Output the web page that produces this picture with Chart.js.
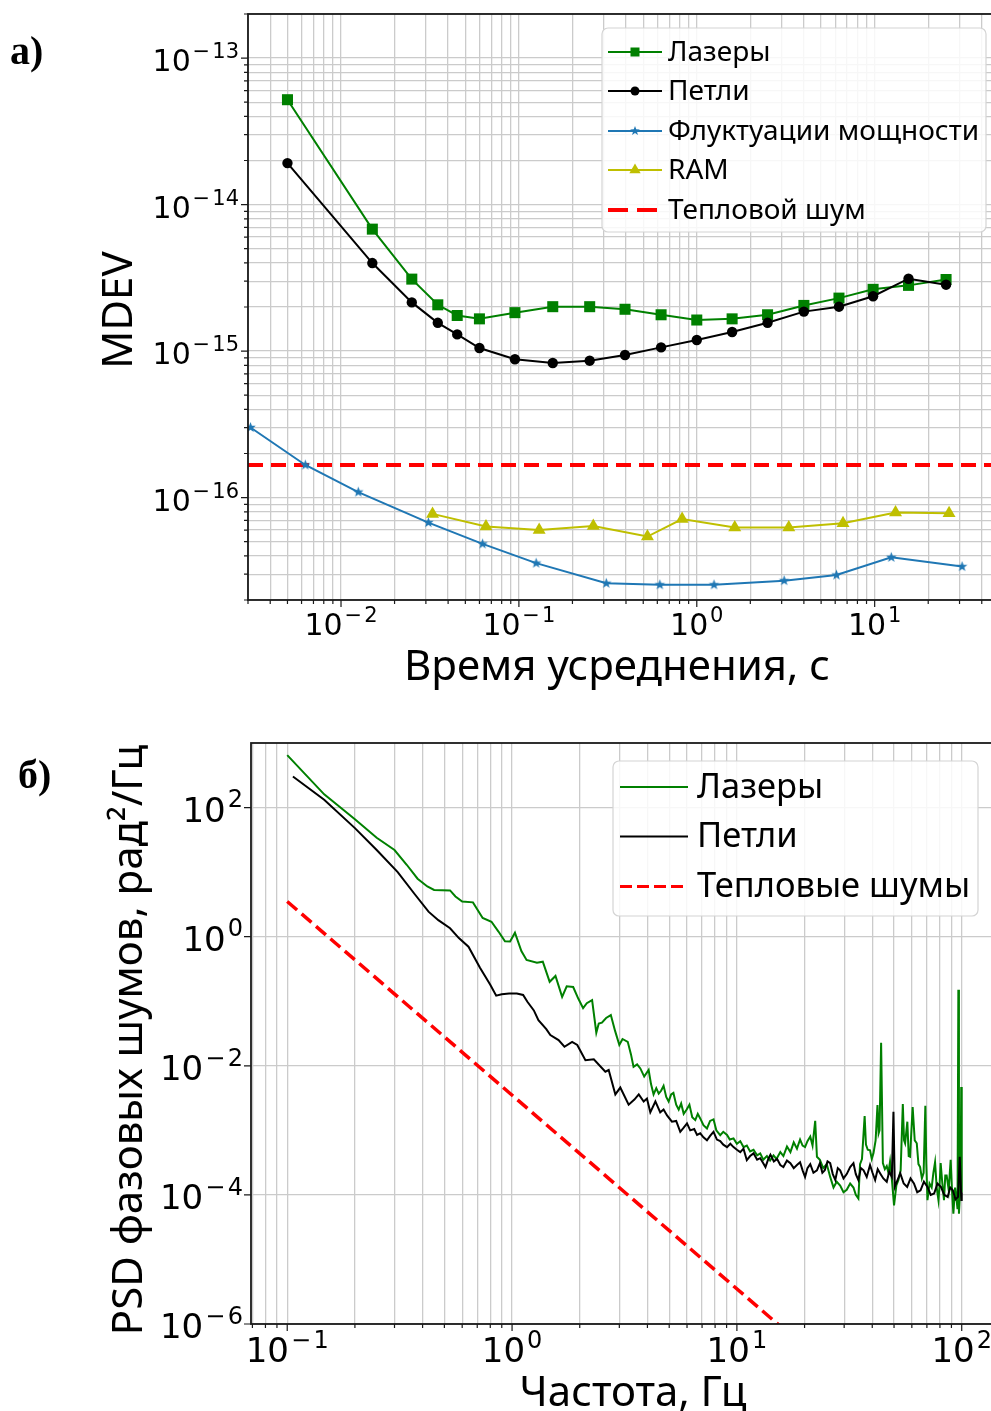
<!DOCTYPE html>
<html lang="ru">
<head>
<meta charset="utf-8">
<title>MDEV и PSD фазовых шумов</title>
<script src="https://cdn.jsdelivr.net/npm/chart.js@4.4.1/dist/chart.umd.min.js"></script>
<style>
  html, body { margin: 0; padding: 0; background: #fff; overflow: hidden; }
  #page { position: relative; width: 991px; height: 1411px; overflow: hidden; background: #fff; }
  canvas { position: absolute; left: 0; }
  #mdevChart { top: 0; }
  #psdChart { top: 700px; }
</style>
</head>
<body>
<div id="page">
  <canvas id="mdevChart" width="1000" height="700"></canvas>
  <canvas id="psdChart" width="1000" height="711"></canvas>
</div>
<script>
// ---------- а) MDEV vs averaging time ----------
const tau = [0.005, 0.015, 0.025, 0.035, 0.045, 0.06, 0.095, 0.155, 0.25, 0.395,
             0.63, 1.0, 1.58, 2.5, 4.0, 6.3, 9.8, 15.5, 25.2];
const lasersMdev = [5.2e-14, 6.8e-15, 3.1e-15, 2.07e-15, 1.75e-15, 1.66e-15, 1.83e-15, 2.01e-15,
                    2.01e-15, 1.93e-15, 1.77e-15, 1.63e-15, 1.66e-15, 1.77e-15, 2.05e-15, 2.3e-15,
                    2.64e-15, 2.81e-15, 3.08e-15];
const loopsMdev = [1.92e-14, 3.99e-15, 2.15e-15, 1.56e-15, 1.30e-15, 1.05e-15, 8.8e-16, 8.3e-16,
                   8.6e-16, 9.4e-16, 1.06e-15, 1.19e-15, 1.35e-15, 1.56e-15, 1.86e-15, 2.01e-15,
                   2.37e-15, 3.12e-15, 2.84e-15];
const powerTau = [0.0031, 0.0063, 0.0125, 0.031, 0.0625, 0.125, 0.31, 0.62, 1.25, 3.1, 6.1, 12.4, 31];
const powerMdev = [3.01e-16, 1.67e-16, 1.09e-16, 6.75e-17, 4.83e-17, 3.57e-17, 2.6e-17, 2.54e-17,
                   2.54e-17, 2.71e-17, 2.96e-17, 3.91e-17, 3.38e-17];
const ramTau = [0.0327, 0.0653, 0.130, 0.262, 0.528, 0.827, 1.635, 3.29, 6.64, 13.1, 26.2];
const ramMdev = [7.74e-17, 6.34e-17, 6.02e-17, 6.41e-17, 5.42e-17, 7.13e-17, 6.24e-17, 6.24e-17,
                 6.68e-17, 7.9e-17, 7.83e-17];
const thermalTau = [0.003, 50];
const thermalMdev = [1.67e-16, 1.67e-16];
const mdevXTicks = [0.01, 0.1, 1, 10];
const mdevYTicks = [1e-16, 1e-15, 1e-14, 1e-13];

// ---------- б) phase noise PSD ----------
const lasersFreq = [0.10, 0.146, 0.20, 0.25, 0.30, 0.34, 0.38, 0.42, 0.45, 0.53, 0.56, 0.60, 0.67, 0.74,
  0.81, 0.87, 0.93, 0.98, 1.03, 1.10, 1.16, 1.29, 1.37, 1.47, 1.56, 1.67, 1.75, 1.87, 1.97, 2.07, 2.15,
  2.27, 2.37, 2.43, 2.51, 2.62, 2.75, 2.87, 3.0, 3.1, 3.27, 3.38, 3.47, 3.6, 3.72, 3.87, 4.05, 4.15,
  4.26, 4.38, 4.49, 4.6, 4.72, 4.85, 4.97, 5.1, 5.22, 5.37, 5.51, 5.65, 5.8, 5.98, 6.15, 6.33, 6.53,
  6.7, 6.87, 7.1, 7.36, 7.6, 7.87, 8.1, 8.43, 8.7, 9.04, 9.3, 9.66, 10.0, 10.35, 10.7, 11.07, 11.45,
  11.86, 12.3, 12.7, 13.1, 13.6, 14.05, 14.55, 15.0, 15.6, 16.1, 16.7, 17.3, 17.9, 18.5, 19.1, 19.6,
  20.1, 20.6, 21.2, 21.7, 22.3, 22.7, 23.4, 24.2, 25.1, 26.0, 26.9, 27.8, 28.8, 29.8, 30.8, 31.9, 33.0,
  33.8, 34.7, 35.3, 36.0, 37.0, 37.5, 38.2, 39.1, 39.8, 40.5, 41.4, 42.2, 42.7, 43.1, 43.8, 44.6, 45.5,
  46.4, 47.2, 48.0, 49.0, 50.0, 51.2, 52.3, 53.5, 54.7, 55.4, 56.0, 57.3, 58.1, 58.9, 60.5, 61.8, 63.1,
  64.2, 65.3, 66.5, 67.7, 68.9, 69.6, 70.4, 71.9, 73.5, 74.8, 76.1, 77.4, 78.8, 79.7, 80.6, 82.0, 83.4,
  84.5, 85.7, 87.5, 89.3, 90.5, 91.8, 93.4, 94.9, 95.8, 96.6, 97.2, 98.0, 98.8, 99.5, 100];
const lasersPsd = [650, 160, 66, 34, 22, 13, 7.9, 6.0, 5.3, 5.2, 4.2, 3.5, 3.4, 1.95,
  1.7, 1.2, 0.85, 0.84, 1.15, 0.6, 0.435, 0.395, 0.41, 0.2, 0.246, 0.117, 0.17, 0.166, 0.11, 0.078, 0.093,
  0.104, 0.0325, 0.045, 0.0465, 0.055, 0.061, 0.035, 0.021, 0.026, 0.0235, 0.015, 0.0096, 0.0105, 0.0091, 0.0068, 0.0086, 0.0052,
  0.0036, 0.0045, 0.0037, 0.0041, 0.0049, 0.0033, 0.0028, 0.0036, 0.0038, 0.0025, 0.0021, 0.0026, 0.0018, 0.0021, 0.0025, 0.0016, 0.00144,
  0.0018, 0.00153, 0.0012, 0.00107, 0.0014, 0.00148, 0.0010, 0.00084, 0.00095, 0.00085, 0.00072, 0.00075, 0.00062, 0.00068, 0.00055, 0.00058, 0.00047,
  0.00050, 0.00041, 0.00044, 0.00035, 0.00040, 0.00034, 0.00041, 0.00036, 0.00046, 0.00040, 0.00056, 0.00046, 0.00065, 0.00052, 0.00072, 0.00058,
  0.00055, 0.00068, 0.00080, 0.00058, 0.0014, 0.00039, 0.00035, 0.00026, 0.00030, 0.00019, 0.00013, 0.00016, 0.00014, 0.00011, 0.00012, 0.00015, 0.00013,
  0.00010, 0.000088, 0.00030, 0.00036, 0.00166, 0.00060, 0.00050, 0.00049, 0.00036, 0.00044, 0.00070, 0.00246, 0.00090, 0.0010, 0.0227, 0.00031, 0.00025,
  0.00028, 0.00022, 0.00033, 0.00016, 0.000069, 0.00014, 0.00017, 0.00024, 0.00255, 0.00070, 0.00063, 0.00136, 0.00040, 0.00039, 0.0023, 0.00070, 0.00063,
  0.00030, 0.00027, 0.00018, 0.00022, 0.0024, 0.00030, 0.000083, 0.00015, 0.00013, 0.00022, 0.00032, 0.00013, 0.000083, 0.00014, 0.00031, 0.00015, 0.000083,
  0.00020, 0.00020, 0.00012, 0.00035, 0.00012, 0.000051, 0.00013, 0.000083, 0.00006, 0.15, 0.000051, 0.00009, 0.00014, 0.0047, 0.00011];

const loopsFreq = [0.106, 0.146, 0.20, 0.25, 0.31, 0.37, 0.425, 0.47, 0.53, 0.58, 0.64, 0.72, 0.80, 0.85,
  0.90, 0.97, 1.05, 1.12, 1.17, 1.25, 1.31, 1.42, 1.48, 1.61, 1.71, 1.85, 1.95, 2.12, 2.31, 2.6, 2.69,
  2.88, 3.03, 3.3, 3.5, 3.66, 3.85, 3.98, 4.12, 4.34, 4.56, 4.72, 4.89, 5.14, 5.37, 5.6, 5.8, 6.0, 6.2,
  6.46, 6.65, 6.87, 7.1, 7.36, 7.6, 7.87, 8.15, 8.43, 8.7, 9.04, 9.35, 9.66, 10.0, 10.35, 10.7, 11.07,
  11.45, 11.86, 12.3, 12.7, 13.1, 13.4, 13.8, 14.1, 14.6, 15.1, 15.6, 16.1, 16.7, 17.3, 17.9, 18.5, 19.1,
  19.6, 20.1, 20.6, 21.2, 21.9, 22.7, 23.4, 24.0, 24.6, 25.3, 26.0, 26.7, 27.4, 28.1, 28.8, 29.8, 30.8,
  31.9, 33.0, 33.8, 34.7, 35.6, 36.6, 37.8, 39.1, 40.1, 41.2, 42.3, 43.4, 44.8, 46.4, 47.6, 48.9, 49.7,
  50.4, 51.8, 53.3, 55.2, 57.2, 59.2, 61.3, 63.4, 65.6, 67.9, 70.4, 72.8, 75.4, 78.0, 80.8, 83.6, 86.6,
  88.9, 91.3, 93.8, 96.3, 98.0, 99.6, 100];
const loopsPsd = [302, 132, 48, 22, 10, 4.5, 2.44, 1.8, 1.35, 0.95, 0.70, 0.33, 0.18, 0.122,
  0.128, 0.132, 0.132, 0.125, 0.098, 0.072, 0.051, 0.037, 0.030, 0.025, 0.0197, 0.0235, 0.021, 0.0122, 0.0126, 0.0081, 0.0086,
  0.0036, 0.0046, 0.0025, 0.0030, 0.0036, 0.0028, 0.0031, 0.0019, 0.0028, 0.0019, 0.0021, 0.0017, 0.00136, 0.0014, 0.00095, 0.0011, 0.00128, 0.0010,
  0.00105, 0.00085, 0.0009, 0.00078, 0.0007, 0.00082, 0.00095, 0.00072, 0.00068, 0.00060, 0.00055, 0.00062, 0.00055, 0.00050, 0.00046, 0.00052, 0.000345,
  0.00040, 0.00044, 0.00035, 0.00037, 0.00031, 0.00027, 0.00036, 0.00042, 0.00033, 0.00036, 0.00029, 0.00027, 0.00034, 0.00031, 0.00026, 0.00029, 0.00032,
  0.00024, 0.00019, 0.00026, 0.00030, 0.00022, 0.00024, 0.00031, 0.00022, 0.00024, 0.00033, 0.00031, 0.00021, 0.00017, 0.00026, 0.00024, 0.00018, 0.00021,
  0.00027, 0.00031, 0.00021, 0.00017, 0.00026, 0.00024, 0.00019, 0.00029, 0.00022, 0.00017, 0.00025, 0.000215, 0.00018, 0.00016, 0.00023, 0.00019, 0.00194,
  0.000133, 0.00017, 0.000215, 0.00015, 0.000133, 0.00018, 0.00015, 0.00011, 0.000118, 0.00016, 0.000133, 0.00010, 0.000105, 0.00015, 0.000133, 0.00010, 0.000093,
  0.00013, 0.000118, 0.000085, 0.000093, 0.00039, 0.000083, 0.00011];

const thermalFreq = [0.1, 100];
const thermalPsd = [3.5, 3.5e-9];
const psdXTicks = [0.1, 1, 10, 100];
const psdYTicks = [1e-6, 1e-4, 1e-2, 1, 100];

// ---------- styling ----------
const GREEN = '#008000', BLACK = '#000000', BLUE = '#1f77b4', OLIVE = '#bfbf00', RED = '#ff0000';
const GRID = '#cbcbcb';
const TEXT_FONT = '"Noto Sans", "DejaVu Sans", sans-serif';
const TICK_FONT = '"DejaVu Sans", sans-serif';
const SERIF_FONT = '"Liberation Serif", "DejaVu Serif", serif';

const pts = (xs, ys) => xs.map((x, i) => ({ x, y: ys[i] }));

function logGrid(min, max, mults) {
  const out = [];
  for (let e = Math.floor(Math.log10(min)); e <= Math.ceil(Math.log10(max)); e++) {
    for (const m of mults) {
      const v = m * Math.pow(10, e);
      if (v >= min * 0.999 && v <= max * 1.001) out.push(v);
    }
  }
  return out;
}

function starPath(ctx, cx, cy, ro, ri) {
  ctx.beginPath();
  for (let i = 0; i < 10; i++) {
    const r = i % 2 ? ri : ro;
    const a = -Math.PI / 2 + i * Math.PI / 5;
    const px = cx + r * Math.cos(a), py = cy + r * Math.sin(a);
    if (i) ctx.lineTo(px, py); else ctx.moveTo(px, py);
  }
  ctx.closePath();
}

function starImage(radius, color) {
  const c = document.createElement('canvas');
  const s = Math.ceil(radius * 2 + 2);
  c.width = s; c.height = s;
  const g = c.getContext('2d');
  g.fillStyle = color;
  starPath(g, s / 2, s / 2, radius, radius * 0.42);
  g.fill();
  return c;
}

function drawMarker(ctx, kind, x, y, color, r) {
  ctx.fillStyle = color;
  ctx.beginPath();
  if (kind === 'rect') {
    ctx.rect(x - r, y - r, 2 * r, 2 * r);
  } else if (kind === 'circle') {
    ctx.arc(x, y, r, 0, Math.PI * 2);
  } else if (kind === 'triangle') {
    ctx.moveTo(x, y - r);
    ctx.lineTo(x + r * 0.87, y + r * 0.5);
    ctx.lineTo(x - r * 0.87, y + r * 0.5);
    ctx.closePath();
  } else if (kind === 'star') {
    starPath(ctx, x, y, r, r * 0.42);
  }
  ctx.fill();
}

// "10" with a raised exponent, py = vertical centre of the digits
function drawPower(ctx, value, px, py, size, align) {
  const exp = Math.round(Math.log10(value));
  const sup = exp < 0 ? '\u2212\u200a' + Math.abs(exp) : String(exp);
  const supSize = Math.round(size * 0.7);
  ctx.font = `${size}px ${TICK_FONT}`;
  const bw = ctx.measureText('10').width;
  ctx.font = `${supSize}px ${TICK_FONT}`;
  const sw = ctx.measureText(sup).width;
  const gap = size * 0.06;
  const total = bw + gap + sw;
  const left = align === 'center' ? px - total / 2 : px - total;
  const base = py + size * 0.364;
  ctx.fillStyle = '#000';
  ctx.textAlign = 'left';
  ctx.textBaseline = 'alphabetic';
  ctx.font = `${size}px ${TICK_FONT}`;
  ctx.fillText('10', left, base);
  ctx.font = `${supSize}px ${TICK_FONT}`;
  ctx.fillText(sup, left + bw + gap, base - size * 0.43);
}

function drawLegend(ctx, lg) {
  ctx.save();
  ctx.beginPath();
  ctx.roundRect(lg.x, lg.y, lg.w, lg.h, 6);
  ctx.fillStyle = 'rgba(255,255,255,0.85)';
  ctx.fill();
  ctx.strokeStyle = '#d4d4d4';
  ctx.lineWidth = 1.2;
  ctx.stroke();
  lg.items.forEach((it, i) => {
    const y = lg.rowY[i];
    ctx.save();
    ctx.strokeStyle = it.color;
    ctx.lineWidth = it.width;
    ctx.setLineDash(it.dash || []);
    ctx.beginPath();
    ctx.moveTo(lg.hx0, y);
    ctx.lineTo(lg.hx1, y);
    ctx.stroke();
    ctx.restore();
    if (it.marker) drawMarker(ctx, it.marker, (lg.hx0 + lg.hx1) / 2, y, it.color, it.size);
    ctx.fillStyle = '#000';
    ctx.font = `${lg.fontSize}px ${TEXT_FONT}`;
    ctx.textAlign = 'left';
    ctx.textBaseline = 'middle';
    ctx.fillText(it.label, lg.tx, y + 1);
  });
  ctx.restore();
}

// frame, tick marks, tick labels, titles and legend drawn around the plot area
function decorPlugin(cfg) {
  return {
    id: 'decor',
    afterDraw(chart) {
      const { ctx, chartArea: a, scales: { x, y } } = chart;
      ctx.save();
      ctx.strokeStyle = '#1a1a1a';
      ctx.lineWidth = 1.2;
      ctx.beginPath();
      cfg.xMinor.forEach(v => { const px = x.getPixelForValue(v); ctx.moveTo(px, a.bottom); ctx.lineTo(px, a.bottom + 4); });
      cfg.xTicks.forEach(v => { const px = x.getPixelForValue(v); ctx.moveTo(px, a.bottom); ctx.lineTo(px, a.bottom + 7); });
      cfg.yMinor.forEach(v => { const py = y.getPixelForValue(v); ctx.moveTo(a.left, py); ctx.lineTo(a.left - 4, py); });
      cfg.yTicks.forEach(v => { const py = y.getPixelForValue(v); ctx.moveTo(a.left, py); ctx.lineTo(a.left - 7, py); });
      ctx.stroke();

      ctx.lineWidth = 1.8;
      ctx.strokeRect(a.left, a.top, a.right - a.left + 10, a.bottom - a.top);

      cfg.xTicks.forEach(v => drawPower(ctx, v, x.getPixelForValue(v), a.bottom + cfg.xLabelGap, cfg.tickSize, 'center'));
      cfg.yTicks.forEach(v => drawPower(ctx, v, a.left - cfg.yLabelGap, y.getPixelForValue(v) + 2, cfg.tickSize, 'right'));

      ctx.fillStyle = '#000';
      ctx.font = `${cfg.titleSize}px ${TEXT_FONT}`;
      ctx.textAlign = 'center';
      ctx.textBaseline = 'alphabetic';
      ctx.fillText(cfg.xTitle, cfg.xTitlePos[0], cfg.xTitlePos[1]);
      ctx.save();
      ctx.translate(cfg.yTitlePos[0], cfg.yTitlePos[1]);
      ctx.rotate(-Math.PI / 2);
      ctx.textBaseline = 'middle';
      ctx.fillText(cfg.yTitle, 0, 0);
      ctx.restore();

      ctx.font = `bold ${cfg.panelSize}px ${SERIF_FONT}`;
      ctx.textAlign = 'left';
      ctx.textBaseline = 'alphabetic';
      ctx.fillText(cfg.panel, cfg.panelPos[0], cfg.panelPos[1]);

      drawLegend(ctx, cfg.legend);
      ctx.restore();
    }
  };
}

function logAxis(min, max, gridValues, isX) {
  return {
    type: 'logarithmic',
    min, max,
    ticks: { display: false },
    border: { display: false },
    grid: { color: GRID, lineWidth: 1.3, drawTicks: false },
    afterBuildTicks: s => { s.ticks = gridValues.map(v => ({ value: v })); },
    afterFit: s => { if (isX) s.height = 0; else s.width = 0; }
  };
}

const baseOptions = {
  responsive: false,
  animation: false,
  events: [],
  plugins: { legend: { display: false }, tooltip: { enabled: false } }
};

// ---------- chart а) ----------
const mdevX = [0.003, 50], mdevY = [2e-17, 2e-13];
const mdevXGrid = logGrid(mdevX[0], mdevX[1], [1, 2, 3, 4, 5, 6, 7, 8, 9]);
const mdevYGrid = logGrid(mdevY[0], mdevY[1], [1, 2, 3, 4, 5, 6, 7, 8, 9]);
const star = starImage(5.5, BLUE);

new Chart(document.getElementById('mdevChart'), {
  type: 'scatter',
  data: {
    datasets: [
      { label: 'Лазеры', data: pts(tau, lasersMdev), showLine: true, borderColor: GREEN, backgroundColor: GREEN,
        borderWidth: 2, pointStyle: 'rect', pointRadius: 7.8, pointBorderWidth: 0, order: 4 },
      { label: 'Петли', data: pts(tau, loopsMdev), showLine: true, borderColor: BLACK, backgroundColor: BLACK,
        borderWidth: 2, pointStyle: 'circle', pointRadius: 5.2, pointBorderWidth: 0, order: 3 },
      { label: 'Флуктуации мощности', data: pts(powerTau, powerMdev), showLine: true, borderColor: BLUE, backgroundColor: BLUE,
        borderWidth: 2, pointStyle: star, pointRadius: 5, order: 2 },
      { label: 'RAM', data: pts(ramTau, ramMdev), showLine: true, borderColor: OLIVE, backgroundColor: OLIVE,
        borderWidth: 2, pointStyle: 'triangle', pointRadius: 7.5, pointBorderWidth: 0, order: 1 },
      { label: 'Тепловой шум', data: pts(thermalTau, thermalMdev), showLine: true, borderColor: RED,
        borderWidth: 4, borderDash: [15, 8], pointRadius: 0, order: 5 }
    ]
  },
  options: {
    ...baseOptions,
    layout: { autoPadding: false, padding: { left: 248, top: 14, right: 1, bottom: 100 } },
    scales: { x: logAxis(mdevX[0], mdevX[1], mdevXGrid, true), y: logAxis(mdevY[0], mdevY[1], mdevYGrid, false) }
  },
  plugins: [decorPlugin({
    xTicks: mdevXTicks, yTicks: mdevYTicks,
    xMinor: mdevXGrid, yMinor: mdevYGrid,
    tickSize: 30, xLabelGap: 24, yLabelGap: 9,
    titleSize: 42, xTitle: 'Время усреднения, с', xTitlePos: [617, 680],
    yTitle: 'MDEV', yTitlePos: [120, 310],
    panel: 'а)', panelSize: 40, panelPos: [10, 64],
    legend: {
      x: 602, y: 28, w: 384, h: 204, hx0: 608, hx1: 662, tx: 668, fontSize: 28,
      rowY: [52, 91, 131, 170, 210],
      items: [
        { label: 'Лазеры', color: GREEN, width: 2, marker: 'rect', size: 4.5 },
        { label: 'Петли', color: BLACK, width: 2, marker: 'circle', size: 4.5 },
        { label: 'Флуктуации мощности', color: BLUE, width: 2, marker: 'star', size: 5 },
        { label: 'RAM', color: OLIVE, width: 2, marker: 'triangle', size: 6.5 },
        { label: 'Тепловой шум', color: RED, width: 4, dash: [20, 9] }
      ]
    }
  })]
});

// ---------- chart б) ----------
const psdX = [0.069, 148], psdY = [1e-6, 1e3];
const psdXGrid = logGrid(psdX[0], psdX[1], [1, 2, 3, 4, 5, 6, 7, 8, 9]);

new Chart(document.getElementById('psdChart'), {
  type: 'scatter',
  data: {
    datasets: [
      { label: 'Лазеры', data: pts(lasersFreq, lasersPsd), showLine: true, borderColor: GREEN,
        borderWidth: 2, pointRadius: 0, order: 3 },
      { label: 'Петли', data: pts(loopsFreq, loopsPsd), showLine: true, borderColor: BLACK,
        borderWidth: 2, pointRadius: 0, order: 2 },
      { label: 'Тепловые шумы', data: pts(thermalFreq, thermalPsd), showLine: true, borderColor: RED,
        borderWidth: 3.5, borderDash: [13, 6], pointRadius: 0, order: 1 }
    ]
  },
  options: {
    ...baseOptions,
    layout: { autoPadding: false, padding: { left: 251, top: 43, right: 0, bottom: 87 } },
    scales: { x: logAxis(psdX[0], psdX[1], psdXGrid, true), y: logAxis(psdY[0], psdY[1], psdYTicks, false) }
  },
  plugins: [decorPlugin({
    xTicks: psdXTicks, yTicks: psdYTicks,
    xMinor: psdXGrid, yMinor: [],
    tickSize: 34, xLabelGap: 26, yLabelGap: 8,
    titleSize: 42, xTitle: 'Частота, Гц', xTitlePos: [633, 706],
    yTitle: 'PSD фазовых шумов, рад²/Гц', yTitlePos: [130, 340],
    panel: 'б)', panelSize: 40, panelPos: [18, 88],
    legend: {
      x: 613, y: 61, w: 365, h: 155, hx0: 620, hx1: 688, tx: 697, fontSize: 34.5,
      rowY: [87, 136.5, 186.5],
      items: [
        { label: 'Лазеры', color: GREEN, width: 2 },
        { label: 'Петли', color: BLACK, width: 2 },
        { label: 'Тепловые шумы', color: RED, width: 3, dash: [12, 5] }
      ]
    }
  })]
});
</script>
</body>
</html>
